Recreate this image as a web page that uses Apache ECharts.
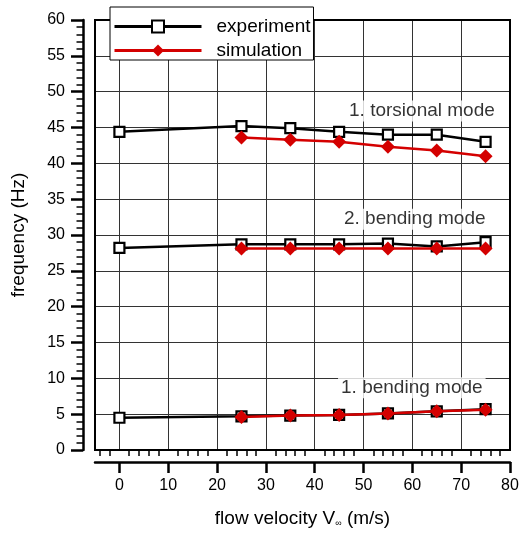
<!DOCTYPE html>
<html>
<head>
<meta charset="utf-8">
<script src="https://cdn.jsdelivr.net/npm/echarts@6/dist/echarts.min.js"></script>
<style>
  html, body { margin: 0; padding: 0; background: #fff; }
  #main { width: 524px; height: 535px; }
</style>
</head>
<body>
<div id="main"></div>
<script>
// flow velocity (m/s)
var expVelocity = [0, 25, 35, 45, 55, 65, 75];
var simVelocity = [25, 35, 45, 55, 65, 75];

// frequency (Hz) per mode
var expTorsional = [44.4, 45.2, 44.9, 44.4, 44.0, 44.0, 43.0];
var simTorsional = [43.6, 43.3, 43.0, 42.3, 41.8, 41.0];
var expBending2 = [28.2, 28.7, 28.7, 28.7, 28.8, 28.4, 29.0];
var simBending2 = [28.1, 28.1, 28.1, 28.1, 28.1, 28.1];
var expBending1 = [4.5, 4.7, 4.8, 4.9, 5.1, 5.4, 5.7];
var simBending1 = [4.6, 4.8, 4.9, 5.1, 5.4, 5.6];

var modeNames = ["1. torsional mode", "2. bending mode", "1. bending mode"];

// x axis ticks: labelled majors and small minors
var xTicks = [0, 10, 20, 30, 40, 50, 60, 70, 80];
var xMinorTicks = [];
for (var v = -4; v <= 80; v += 2) {
  if (v % 10 !== 0) xMinorTicks.push(v);
}

var font = "Liberation Sans, Arial, sans-serif";
var red = "#d40000";

function pairs(xs, ys) {
  return xs.map(function (x, i) { return [x, ys[i]]; });
}

function expSeries(values) {
  return {
    name: "experiment",
    type: "line",
    data: pairs(expVelocity, values),
    symbol: "rect",
    symbolSize: 10,
    lineStyle: { color: "#000", width: 2.5 },
    itemStyle: { color: "#fff", borderColor: "#000", borderWidth: 2.2 },
    z: 3
  };
}

function simSeries(values) {
  return {
    name: "simulation",
    type: "line",
    data: pairs(simVelocity, values),
    symbol: "diamond",
    symbolSize: 14,
    lineStyle: { color: red, width: 2.5 },
    itemStyle: { color: red },
    z: 4
  };
}

var myChart = echarts.init(document.getElementById("main"));

var option = {
  animation: false,
  backgroundColor: "#fff",
  textStyle: { fontFamily: font },
  grid: {
    left: 95,
    right: 14,
    top: 20,
    bottom: 85,
    show: true,
    borderColor: "#000",
    borderWidth: 2,
    backgroundColor: "transparent",
    z: 5
  },
  legend: {
    data: ["experiment", "simulation"],
    orient: "vertical",
    left: 110,
    top: 7,
    padding: [10, 3, 0, 3],
    itemWidth: 87,
    itemHeight: 15,
    itemGap: 5,
    backgroundColor: "#fff",
    borderColor: "#000",
    borderWidth: 1,
    lineStyle: { width: 3 },
    textStyle: { fontSize: 19, color: "#000", fontFamily: font, padding: [0, 0, 0, 10] },
    z: 10
  },
  xAxis: [
    {
      type: "value",
      position: "bottom",
      min: -5,
      max: 80,
      splitNumber: 8,
      offset: 12,
      name: "flow velocity V{sub|\u221e} (m/s)",
      nameLocation: "middle",
      nameGap: 47,
      nameTextStyle: {
        fontSize: 19,
        color: "#000",
        fontFamily: font,
        rich: {
          sub: { fontSize: 9, color: "#000", fontFamily: font, verticalAlign: "bottom", padding: [10, 0, 0, 0] }
        }
      },
      axisLine: { show: true, onZero: false, lineStyle: { color: "#000", width: 2.5 } },
      axisTick: { show: true, length: 11, customValues: xTicks, lineStyle: { color: "#000", width: 2.5 } },
      minorTick: { show: false },
      axisLabel: {
        fontSize: 16,
        color: "#000",
        margin: 16,
        customValues: xTicks,
        formatter: function (v) { return xTicks.indexOf(v) >= 0 ? String(v) : ""; }
      },
      splitLine: { show: true, lineStyle: { color: "#333", width: 1 } }
    },
    {
      type: "value",
      position: "bottom",
      min: -5,
      max: 80,
      offset: 12,
      axisLine: { show: false },
      axisTick: { show: true, length: 6, customValues: xMinorTicks, lineStyle: { color: "#000", width: 1.5 } },
      axisLabel: { show: false },
      splitLine: { show: false }
    }
  ],
  yAxis: {
    type: "value",
    min: 0,
    max: 60,
    interval: 5,
    offset: 12,
    name: "frequency (Hz)",
    nameLocation: "middle",
    nameGap: 55,
    nameTextStyle: { fontSize: 19, color: "#000", fontFamily: font },
    axisLine: { show: true, onZero: false, lineStyle: { color: "#000", width: 2.5 } },
    axisTick: { show: true, length: 12, lineStyle: { color: "#000", width: 2.5 } },
    minorTick: { show: true, splitNumber: 5, length: 6.5, lineStyle: { color: "#000", width: 1.5 } },
    axisLabel: { fontSize: 16, color: "#000", margin: 18 },
    splitLine: { show: true, lineStyle: { color: "#333", width: 1 } }
  },
  series: [
    expSeries(expTorsional),
    simSeries(simTorsional),
    expSeries(expBending2),
    simSeries(simBending2),
    expSeries(expBending1),
    simSeries(simBending1),
    {
      name: "modes",
      type: "scatter",
      symbolSize: 0,
      silent: true,
      z: 2,
      data: [
        { value: [77.5, 47.3], name: modeNames[0] },
        { value: [75.6, 32.2], name: modeNames[1] },
        { value: [75.0, 8.7], name: modeNames[2] }
      ],
      label: {
        show: true,
        position: "inside",
        align: "right",
        verticalAlign: "middle",
        formatter: "{b}",
        fontSize: 19,
        color: "#000",
        fontFamily: font,
        backgroundColor: "#fff",
        padding: [1, 3]
      }
    }
  ]
};

myChart.setOption(option);
</script>
</body>
</html>
